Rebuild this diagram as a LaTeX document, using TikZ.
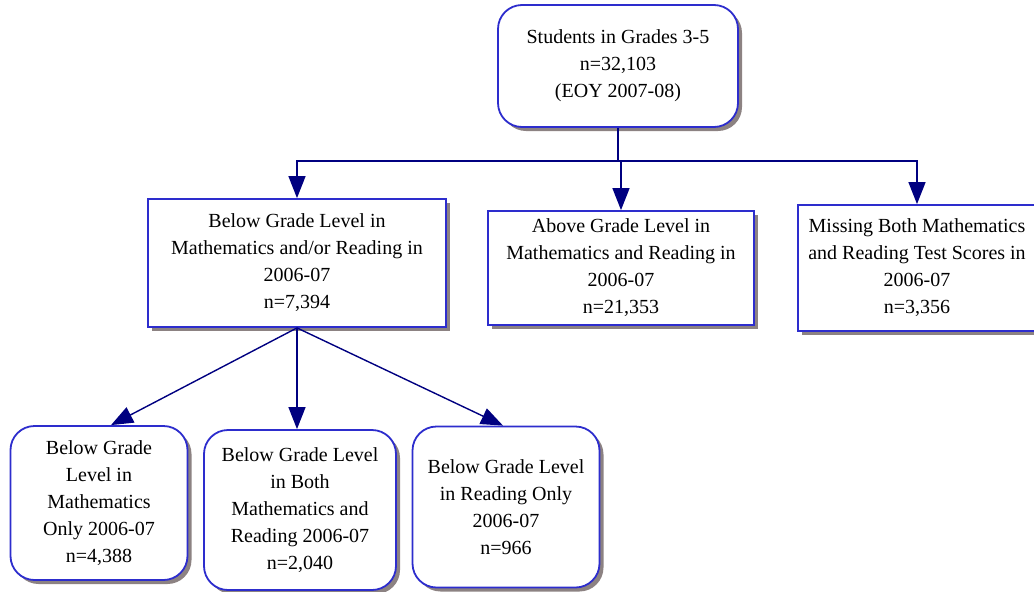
\documentclass[tikz,border=0pt]{standalone}
\usepackage{fontspec}
\setmainfont{Liberation Serif}
\usetikzlibrary{arrows.meta,shadows}
\definecolor{boxblue}{RGB}{45,45,205}
\definecolor{linenavy}{RGB}{0,0,128}
\definecolor{shadowgray}{RGB}{140,130,130}

\begin{document}
\begin{tikzpicture}[x=1pt,y=-1pt,
  box/.style={draw=boxblue,line width=1.8pt,fill=white,align=center,inner sep=2pt,
    font=\fontsize{20}{27}\selectfont,
    drop shadow={shadow xshift=4pt,shadow yshift=-4pt,fill=shadowgray,opacity=1}},
  roundbox/.style={box,rounded corners=24pt},
  conn/.style={draw=linenavy,line width=1.4pt},
  arr/.style={conn,-{Triangle[length=22pt,width=17pt]}}]
  \useasboundingbox (0,0) rectangle (1034,592);
  \clip (0,0) rectangle (1034,592);

  %top level
  \node[roundbox,minimum width=240,minimum height=122] (top) at (618,66)
    {Students in Grades 3-5\\n=32,103\\(EOY 2007-08)};

  %second level
  \node[box,minimum width=298,minimum height=128] (below) at (297,263)
    {Below Grade Level in\\Mathematics and/or Reading in\\2006-07\\n=7,394};
  \node[box,minimum width=266,minimum height=114] (above) at (621,268)
    {Above Grade Level in\\Mathematics and Reading in\\2006-07\\n=21,353};
  \node[box,minimum width=238,minimum height=126] (missing) at (917,268)
    {Missing Both Mathematics\\and Reading Test Scores in\\2006-07\\n=3,356};

  %third level
  \node[roundbox,minimum width=177,minimum height=154] (mathonly) at (99,503)
    {Below Grade\\Level in\\Mathematics\\Only 2006-07\\n=4,388};
  \node[roundbox,minimum width=192,minimum height=160] (both) at (300,510)
    {Below Grade Level\\in Both\\Mathematics and\\Reading 2006-07\\n=2,040};
  \node[roundbox,minimum width=187,minimum height=161] (readonly) at (506,507)
    {Below Grade Level\\in Reading Only\\2006-07\\n=966};

  %connectors
  \coordinate (split) at (top.south |- 0,161);
  \draw[conn] (top.south) -- (split);
  \draw[arr] (split) -| (below.north);
  \draw[arr] (split) -| (above.north);
  \draw[arr] (split) -| (missing.north);
  \draw[arr] (below.south) -- ([xshift=12pt]mathonly.north);
  \draw[arr] (below.south) -- (below.south |- both.north);
  \draw[arr] (below.south) -- ([xshift=-3pt]readonly.north);
\end{tikzpicture}
\end{document}
